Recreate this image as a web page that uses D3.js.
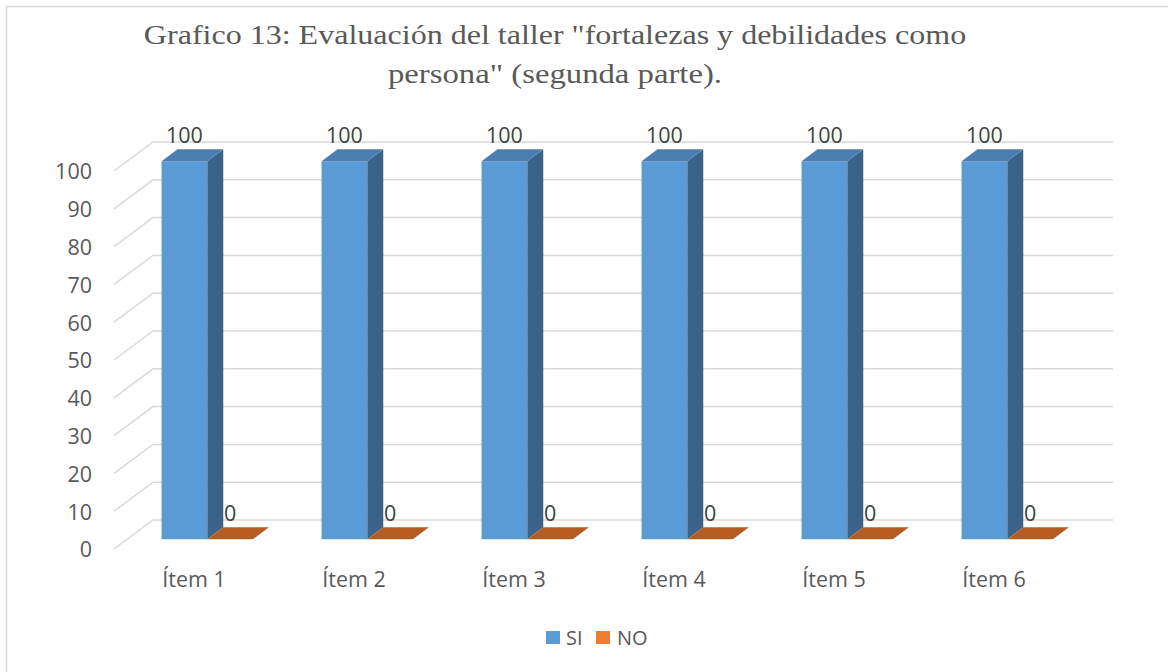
<!DOCTYPE html>
<html><head><meta charset="utf-8">
<script src="https://cdn.jsdelivr.net/npm/d3@7"></script>
<style>
html,body{margin:0;padding:0;background:#fff;}
svg{display:block;}
</style></head>
<body>
<svg id="chart" width="1168" height="672"></svg>
<script>
// ---- data ----
const categories = ["Ítem 1","Ítem 2","Ítem 3","Ítem 4","Ítem 5","Ítem 6"];
const seriesNames = ["SI","NO"];
const siValues = [100,100,100,100,100,100];
const noValues = [0,0,0,0,0,0];
const yTicks = [0,10,20,30,40,50,60,70,80,90,100];
const titleLines = ["Grafico 13: Evaluación del taller \"fortalezas y debilidades como", "persona\" (segunda parte)."];

// ---- styles ----
const colors = {
  SI: {front:"#5b9bd5", top:"#4a7eaf", side:"#3a6387"},
  NO: {front:"#ed7d31", top:"#b65e22", side:"#a0521d"}
};
const sansFont = "'Open Sans', sans-serif";
const serifFont = "'Liberation Serif', 'Times New Roman', serif";

const svg = d3.select("#chart");

// border
svg.append("rect").attr("x",6.5).attr("y",6.5).attr("width",1200).attr("height",700)
  .attr("fill","#fff").attr("stroke","#d9d9d9").attr("stroke-width",1.5);

// title
[[44,0,1.165],[83,1,1.19]].forEach(([ty,i,sx]) => {
  svg.append("text").attr("transform",`translate(555,${ty}) scale(${sx},1)`)
    .attr("text-anchor","middle")
    .attr("font-family",serifFont).attr("font-size",27.5).attr("fill","#595959")
    .text(titleLines[i]);
});

// geometry
const plotLeft = 114, plotRight = 1074;
const depth = {dx:39, dy:-29};
const f1 = 0.34, f2 = 0.75;

const x = d3.scaleBand().domain(categories).range([plotLeft, plotRight]).padding(0);
const xs = d3.scaleBand().domain(seriesNames).range([0, x.bandwidth()])
  .paddingInner(0).paddingOuter(0.75);
const y = d3.scaleLinear().domain([0,100]).range([549,171]);

// gridlines (floor diagonal + back wall)
const grid = svg.append("g").attr("stroke","#d9d9d9").attr("stroke-width",1.5).attr("fill","none");
yTicks.forEach(v => {
  const y0 = y(v);
  grid.append("path").attr("d",
    `M${plotLeft},${y0} L${plotLeft+depth.dx},${y0+depth.dy} L${plotRight+depth.dx},${y0+depth.dy}`);
});

// y axis labels
const yAxis = d3.axisLeft(y).tickValues(yTicks).tickSize(0).tickPadding(0);
const yg = svg.append("g").attr("transform","translate(92,1)").call(yAxis);
yg.select(".domain").remove();
yg.selectAll("text").attr("font-family",sansFont).attr("font-size",21.5).attr("fill","#595959");

// bars
const data = [];
categories.forEach((c,i) => {
  data.push({cat:c, s:"SI", v:siValues[i]});
  data.push({cat:c, s:"NO", v:noValues[i]});
});

const fo = {dx:depth.dx*f1, dy:depth.dy*f1};
const bo = {dx:depth.dx*f2, dy:depth.dy*f2};

const bars = svg.append("g");
data.forEach(d => {
  const xl = x(d.cat) + xs(d.s) + fo.dx;
  const xr = xl + xs.bandwidth();
  const yb = y(0) + fo.dy;
  const yt = y(d.v) + fo.dy;
  const ddx = bo.dx - fo.dx, ddy = bo.dy - fo.dy;
  const c = colors[d.s];
  const g = bars.append("g");
  if (yb - yt > 0.5) {
    g.append("path").attr("fill",c.side)
      .attr("d",`M${xr},${yb} L${xr+ddx},${yb+ddy} L${xr+ddx},${yt+ddy} L${xr},${yt} Z`);
    g.append("path").attr("fill",c.front)
      .attr("d",`M${xl},${yb} L${xr},${yb} L${xr},${yt} L${xl},${yt} Z`);
  }
  g.append("path").attr("fill",c.top)
    .attr("d",`M${xl},${yt} L${xr},${yt} L${xr+ddx},${yt+ddy} L${xl+ddx},${yt+ddy} Z`);
  g.append("text").attr("x",(xl+xr)/2).attr("y",yt+ddy-6).attr("text-anchor","middle")
    .attr("font-family",sansFont).attr("font-size",21.5).attr("fill","#404040").text(d.v);
});

// category labels
svg.append("g").selectAll("text").data(categories).join("text")
  .attr("x",d => x(d) + x.bandwidth()/2).attr("y",587).attr("text-anchor","middle")
  .attr("font-family",sansFont).attr("font-size",21.5).attr("fill","#595959").text(d => d);

// legend
const legendItems = [{s:"SI", x:546, tx:566},{s:"NO", x:596, tx:617}];
const lg = svg.append("g");
legendItems.forEach(l => {
  lg.append("rect").attr("x",l.x).attr("y",631).attr("width",14).attr("height",13).attr("fill",colors[l.s].front);
  lg.append("text").attr("x",l.tx).attr("y",638).attr("dy","0.35em")
    .attr("font-family",sansFont).attr("font-size",20).attr("fill","#595959").text(l.s);
});
</script>
</body></html>
